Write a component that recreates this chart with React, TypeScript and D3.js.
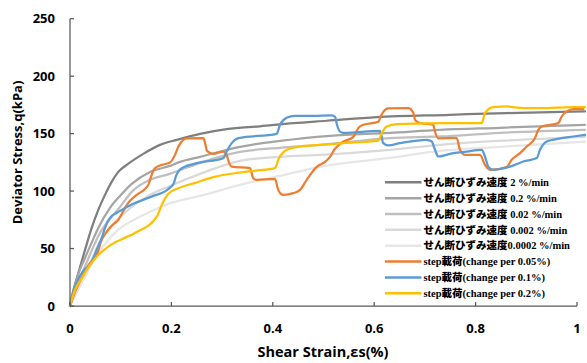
import React from 'react';
import * as d3 from 'd3';

const W = 587;
const H = 363;

const xTicks = [0, 0.2, 0.4, 0.6, 0.8, 1];
const xTickLabels = ['0', '0.2', '0.4', '0.6', '0.8', '1'];
const yTicks = [0, 50, 100, 150, 200, 250];
const yTickLabels = ['0', '50', '100', '150', '200', '250'];

// strain (%), deviator stress (kPa)
const rate2: [number, number][] = [
  [0, 0], [0.0034, 7.8], [0.0164, 28.7], [0.0296, 48.8], [0.0428, 67.9], [0.0558, 83.6],
  [0.069, 96.7], [0.0822, 108.0], [0.0953, 116.7], [0.1118, 122.8], [0.1446, 132.4],
  [0.1775, 140.2], [0.2105, 144.6], [0.2564, 149.8], [0.3091, 153.9], [0.3748, 156.4],
  [0.4404, 159.1], [0.5063, 161.2], [0.6049, 164.4], [0.7495, 166.4], [0.8613, 167.9], [1.0158, 169.3],
];
const rate02: [number, number][] = [
  [0, 0], [0.0079, 13.9], [0.0158, 27.0], [0.0296, 41.8], [0.0434, 55.8], [0.0558, 67.9],
  [0.0789, 85.4], [0.0986, 95.8], [0.1217, 106.3], [0.1578, 116.7], [0.1972, 121.9],
  [0.217, 125.4], [0.2564, 129.8], [0.3353, 138.5], [0.4142, 143.7], [0.5128, 148.1],
  [0.6312, 150.7], [0.7298, 153.3], [0.8481, 155.1], [1.0158, 157.7],
];
const rate002: [number, number][] = [
  [0, 0], [0.0099, 12.2], [0.0197, 24.4], [0.0316, 36.6], [0.0434, 48.8], [0.0558, 61.0],
  [0.0789, 75.8], [0.0986, 86.2], [0.1217, 99.3], [0.1578, 109.8], [0.1972, 115.0],
  [0.2564, 124.6], [0.3353, 134.1], [0.4142, 137.6], [0.4931, 140.2], [0.6312, 146.1],
  [0.7298, 147.5], [0.8481, 150.7], [1.0158, 153.3],
];
const rate0002: [number, number][] = [
  [0, 0], [0.0118, 12.2], [0.0237, 22.6], [0.0394, 36.6], [0.0558, 53.1], [0.0789, 67.9],
  [0.1217, 86.2], [0.1578, 96.7], [0.1972, 104.5], [0.2564, 115.0], [0.3353, 126.3],
  [0.4142, 129.8], [0.4931, 131.5], [0.6312, 135.9], [0.7298, 140.2], [0.8481, 143.7], [1.0158, 147.2],
];
const rate00002: [number, number][] = [
  [0, 0], [0.0158, 13.9], [0.0316, 27.0], [0.0493, 41.8], [0.069, 54.0], [0.0947, 66.2],
  [0.1217, 74.0], [0.1578, 81.9], [0.1992, 89.7], [0.2564, 95.8], [0.3353, 105.4],
  [0.4142, 113.2], [0.4931, 121.1], [0.6312, 128.9], [0.7298, 135.0], [0.8481, 138.5], [1.0158, 143.0],
];
const step005: [number, number][] = [
  [0, 0], [0.0099, 12.2], [0.0237, 25.3], [0.0394, 37.5], [0.0527, 44.4], [0.0625, 57.5],
  [0.0724, 64.7], [0.0822, 69.7], [0.0888, 72.3], [0.0953, 74.9], [0.102, 80.1], [0.1085, 85.4],
  [0.1183, 91.5], [0.1316, 96.7], [0.1479, 101.9], [0.1544, 105.4], [0.1611, 114.1], [0.1677, 120.0],
  [0.1809, 122.8], [0.1972, 124.8], [0.2071, 131.5], [0.2136, 138.5], [0.2235, 144.6], [0.2302, 145.9],
  [0.2629, 146.1], [0.2673, 140.2], [0.2702, 135.0], [0.2826, 132.4], [0.3024, 134.4], [0.3091, 131.5],
  [0.3122, 126.6], [0.3189, 121.3], [0.355, 120.0], [0.3615, 111.2], [0.3682, 109.8], [0.4043, 110.6],
  [0.4108, 101.0], [0.4207, 96.7], [0.4404, 98.2], [0.4536, 101.0], [0.4669, 109.8], [0.4866, 121.1],
  [0.503, 125.4], [0.5128, 129.8], [0.5227, 136.8], [0.539, 142.9], [0.5588, 147.2], [0.5686, 154.8],
  [0.5785, 157.7], [0.6081, 160.3], [0.6134, 165.5], [0.618, 169.0], [0.6278, 172.0], [0.6673, 172.2],
  [0.6771, 168.1], [0.6805, 162.0], [0.6903, 159.1], [0.7166, 157.7], [0.7199, 151.8], [0.7258, 145.9],
  [0.7627, 146.1], [0.7692, 135.9], [0.7791, 131.5], [0.8087, 131.5], [0.8185, 122.8], [0.8284, 118.5],
  [0.8613, 120.8], [0.8712, 127.2], [0.8876, 133.0], [0.9008, 138.8], [0.9172, 146.1], [0.9237, 153.3],
  [0.9304, 156.2], [0.9631, 159.1], [0.9698, 164.9], [0.9797, 169.3], [0.9927, 171.3], [1.0124, 171.3],
];
const step01: [number, number][] = [
  [0, 0], [0.0039, 7.0], [0.0099, 16.6], [0.0197, 26.1], [0.0296, 32.2], [0.0394, 35.7],
  [0.0493, 45.3], [0.0558, 52.3], [0.0625, 59.2], [0.069, 67.9], [0.075, 74.0], [0.0822, 78.4],
  [0.0921, 81.0], [0.102, 83.6], [0.1249, 88.9], [0.1643, 95.8], [0.1874, 99.7], [0.1992, 103.7],
  [0.2051, 107.1], [0.2091, 113.2], [0.2136, 117.0], [0.2235, 120.6], [0.2499, 124.3], [0.3024, 128.7],
  [0.3091, 134.4], [0.3189, 141.7], [0.332, 146.1], [0.4077, 149.8], [0.4142, 157.7], [0.4274, 163.8],
  [0.4438, 165.5], [0.4799, 165.5], [0.5162, 165.9], [0.5227, 164.6], [0.5266, 157.7], [0.5325, 151.8],
  [0.539, 150.7], [0.6114, 152.4], [0.6148, 147.2], [0.6174, 142.0], [0.6278, 139.8], [0.6509, 141.7],
  [0.7036, 144.6], [0.7134, 143.1], [0.7199, 135.9], [0.7264, 130.1], [0.756, 133.0], [0.7824, 134.4],
  [0.812, 135.9], [0.8185, 130.1], [0.8251, 121.3], [0.8349, 118.5], [0.8679, 121.3], [0.8941, 125.7],
  [0.9205, 128.7], [0.927, 135.9], [0.9402, 143.1], [0.96, 145.2], [0.9927, 147.5], [1.0158, 149.0],
];
const step02: [number, number][] = [
  [0, 0], [0.0099, 13.9], [0.0231, 24.1], [0.0394, 35.7], [0.0558, 44.4], [0.0755, 51.7],
  [0.102, 58.1], [0.1282, 63.6], [0.171, 77.5], [0.1746, 81.0], [0.1809, 88.0], [0.1939, 97.6],
  [0.2136, 102.5], [0.2465, 107.1], [0.2826, 112.1], [0.3485, 117.0], [0.4043, 120.0], [0.4108, 127.2],
  [0.4274, 135.9], [0.4536, 138.8], [0.4931, 140.2], [0.539, 141.7], [0.6081, 144.0], [0.6148, 150.4],
  [0.6246, 156.2], [0.6444, 158.3], [0.7495, 159.2], [0.812, 159.2], [0.8185, 167.9], [0.8349, 173.1],
  [0.8613, 173.6], [0.8941, 172.2], [0.927, 172.2], [0.9927, 173.1], [1.0158, 173.1],
];

const seriesData = [rate2, rate02, rate002, rate0002, rate00002, step005, step01, step02];
const seriesColors = ['#7F7F7F', '#A5A5A5', '#BFBFBF', '#D9D9D9', '#E7E6E6', '#ED7D31', '#5B9BD5', '#FFC000'];
const legendJa = ['せん断ひずみ速度', 'せん断ひずみ速度', 'せん断ひずみ速度', 'せん断ひずみ速度', 'せん断ひずみ速度', '載荷', '載荷', '載荷'];
const legendPre = ['', '', '', '', '', 'step', 'step', 'step'];
const legendPost = [' 2 %/min', ' 0.2 %/min', ' 0.02 %/min', ' 0.002 %/min', '0.0002 %/min', '(change per 0.05%)', '(change per 0.1%)', '(change per 0.2%)'];

const latin = '"Liberation Serif", "Times New Roman", serif';
const cjk = '"Noto Sans CJK JP", sans-serif';
const axisFont = '"Open Sans", sans-serif';

export default function App() {
  const x = d3.scaleLinear().domain([0, 1]).range([70, 577]);
  const y = d3.scaleLinear().domain([0, 250]).range([306, 18.7]);
  const line = d3
    .line<[number, number]>()
    .x((d) => x(d[0]))
    .y((d) => y(d[1]))
    .curve(d3.curveMonotoneX);

  const legendX0 = 385;
  const legendX1 = 421.5;
  const legendTop = 182.3;
  const legendStep = 15.85;

  return (
    <svg width={W} height={H} style={{ position: 'absolute', left: 0, top: 0, background: '#fff' }}>
      <rect x={0} y={0} width={W} height={H} fill="#fff" />
      {seriesData.map((d, i) => (
        <path key={i} d={line(d) || ''} fill="none" stroke={seriesColors[i]} strokeWidth={2.25} strokeLinejoin="round" strokeLinecap="round" />
      ))}
      <line x1={x(0)} x2={x(0)} y1={y(0)} y2={y(250)} stroke="#595959" strokeWidth={1.25} />
      <line x1={x(0)} x2={x(1)} y1={y(0)} y2={y(0)} stroke="#595959" strokeWidth={1.25} />
      {yTicks.map((t, i) => (
        <g key={'y' + i}>
          <line x1={x(0)} x2={x(0) + 4} y1={y(t)} y2={y(t)} stroke="#595959" strokeWidth={1.25} />
          <text x={55} y={y(t)} dy="0.36em" textAnchor="end" fontFamily={axisFont} fontWeight="bold" fontSize={13} fill="#000">
            {yTickLabels[i]}
          </text>
        </g>
      ))}
      {xTicks.map((t, i) => (
        <g key={'x' + i}>
          <line x1={x(t)} x2={x(t)} y1={y(0)} y2={y(0) - 4} stroke="#595959" strokeWidth={1.25} />
          <text x={x(t)} y={328.5} dy="0.36em" textAnchor="middle" fontFamily={axisFont} fontWeight="bold" fontSize={13} fill="#000">
            {xTickLabels[i]}
          </text>
        </g>
      ))}
      <text x={323} y={352} dy="0.36em" textAnchor="middle" fontFamily={axisFont} fontWeight="bold" fontSize={14.5} fill="#000">
        Shear Strain,εs(%)
      </text>
      <text transform="translate(17.5,152.5) rotate(-90)" dy="0.36em" textAnchor="middle" fontFamily={axisFont} fontWeight="bold" fontSize={13} fill="#000">
        Deviator Stress,q(kPa)
      </text>
      {seriesColors.map((c, i) => {
        const ly = legendTop + i * legendStep;
        return (
          <g key={'l' + i}>
            <line x1={legendX0} x2={legendX1} y1={ly} y2={ly} stroke={c} strokeWidth={2.5} />
            <text x={423.5} y={ly} dy="0.36em" fontSize={10.5} fontWeight="bold" fill="#000">
              {legendPre[i] ? <tspan fontFamily={latin}>{legendPre[i]}</tspan> : null}
              <tspan fontFamily={cjk} fontWeight="900">{legendJa[i]}</tspan>
              <tspan fontFamily={latin}>{legendPost[i]}</tspan>
            </text>
          </g>
        );
      })}
    </svg>
  );
}
